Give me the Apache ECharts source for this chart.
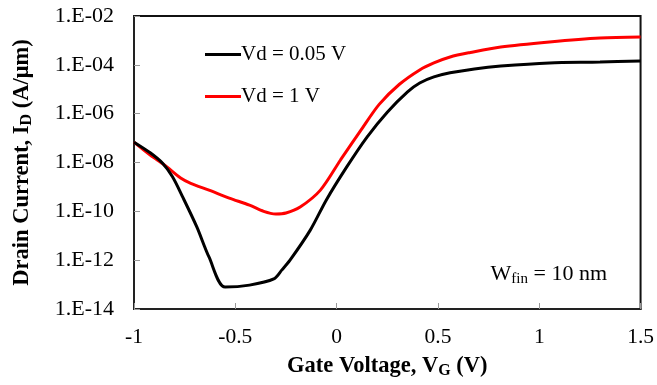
<!DOCTYPE html>
<html>
<head>
<meta charset="utf-8">
<style>
  html, body { margin: 0; padding: 0; background: #fff; }
  #chart { width: 657px; height: 385px; }
</style>
<script src="https://cdn.jsdelivr.net/npm/echarts@6/dist/echarts.min.js"></script>
</head>
<body>
<div id="chart"></div>
<script>
// Gate voltage sweep points (V)
const vgLow  = [-1, -0.92, -0.86, -0.81, -0.76, -0.69, -0.63, -0.55, -0.43, -0.31, -0.27, -0.23, -0.13, -0.05, 0.05, 0.15, 0.25, 0.35, 0.41, 0.48, 0.56, 0.68, 0.81, 1.05, 1.30, 1.50];
// Drain current at Vd = 0.05 V (A/um)
const idLow  = [6.8e-8, 2.5e-8, 9.5e-9, 2.6e-9, 3.9e-10, 2.3e-11, 1.35e-12, 7.9e-14, 9.5e-14, 1.7e-13, 4.0e-13, 1.0e-12, 1.7e-11, 3.0e-10, 6.6e-9, 1.1e-7, 1.15e-6, 7.8e-6, 1.8e-5, 3.2e-5, 4.7e-5, 6.8e-5, 8.9e-5, 1.2e-4, 1.3e-4, 1.45e-4];

const vgHigh = [-1, -0.92, -0.85, -0.77, -0.72, -0.63, -0.53, -0.43, -0.36, -0.30, -0.25, -0.18, -0.08, 0.02, 0.12, 0.21, 0.31, 0.41, 0.48, 0.56, 0.66, 0.81, 1.05, 1.30, 1.50];
// Drain current at Vd = 1 V (A/um)
const idHigh = [6.8e-8, 2.0e-8, 7.9e-9, 2.3e-9, 1.4e-9, 7.4e-10, 3.5e-10, 1.8e-10, 1.0e-10, 7.8e-11, 8.5e-11, 1.5e-10, 7.4e-10, 1.3e-8, 2.1e-7, 2.4e-6, 1.6e-5, 6.2e-5, 1.2e-4, 2.1e-4, 3.2e-4, 5.4e-4, 8.7e-4, 1.26e-3, 1.38e-3];

const seriesNames = ['Vd = 0.05 V', 'Vd = 1 V'];
const xTicks = { min: -1, max: 1.5, step: 0.5 };
const yTicks = { min: 1e-14, max: 1e-2 };

const FONT = 'Liberation Serif';

function pairs(xs, ys) { return xs.map((x, i) => [x, ys[i]]); }

function sciLabel(v) {
  const e = Math.round(Math.log10(v));
  const mag = String(Math.abs(e)).padStart(2, '0');
  return '1.E' + (e < 0 ? '-' : '+') + mag;
}

const chart = echarts.init(document.getElementById('chart'), null, { renderer: 'canvas' });

chart.setOption({
  animation: false,
  backgroundColor: '#fff',
  grid: {
    left: 134, right: 16, top: 16, bottom: 76,
    show: true, borderColor: '#111', borderWidth: 2, backgroundColor: 'transparent'
  },
  legend: {
    orient: 'vertical',
    left: 200, top: 39,
    itemWidth: 36, itemHeight: 3, itemGap: 21,
    icon: 'rect',
    textStyle: { fontFamily: FONT, fontSize: 21, color: '#000', padding: [0, 0, 0, -5] },
    data: seriesNames
  },
  xAxis: {
    type: 'value',
    min: xTicks.min, max: xTicks.max, interval: xTicks.step,
    axisLine: { onZero: false, lineStyle: { color: '#222', width: 2 } },
    axisTick: { inside: true, length: 6, lineStyle: { color: '#999', width: 1 } },
    splitLine: { show: false },
    axisLabel: { fontFamily: FONT, fontSize: 21.5, color: '#000', margin: 17 },
    name: '{b|Gate Voltage, V}{s|G}{b| (V)}',
    nameLocation: 'middle', nameGap: 45,
    nameTextStyle: {
      rich: {
        b: { fontFamily: FONT, fontSize: 22.5, fontWeight: 'bold', color: '#000' },
        s: { fontFamily: FONT, fontSize: 16, fontWeight: 'bold', color: '#000', padding: [9, 0, 0, 0] }
      }
    }
  },
  yAxis: {
    type: 'log', logBase: 10,
    min: yTicks.min, max: yTicks.max, interval: 2,
    axisLine: { onZero: false, lineStyle: { color: '#222', width: 2 } },
    axisTick: { inside: true, length: 6, lineStyle: { color: '#999', width: 1 } },
    splitLine: { show: false },
    minorTick: { show: false },
    axisLabel: { fontFamily: FONT, fontSize: 22, color: '#000', margin: 20, formatter: sciLabel },
    name: '{b|Drain Current, I}{s|D}{b| (A/μm)}',
    nameLocation: 'middle', nameGap: 99,
    nameTextStyle: {
      rich: {
        b: { fontFamily: FONT, fontSize: 22.5, fontWeight: 'bold', color: '#000' },
        s: { fontFamily: FONT, fontSize: 16, fontWeight: 'bold', color: '#000', padding: [9, 0, 0, 0] }
      }
    }
  },
  series: [
    {
      name: seriesNames[0], type: 'line', data: pairs(vgLow, idLow),
      showSymbol: false, smooth: 0.3,
      lineStyle: { color: '#000', width: 3 }, itemStyle: { color: '#000' }, z: 3
    },
    {
      name: seriesNames[1], type: 'line', data: pairs(vgHigh, idHigh),
      showSymbol: false, smooth: 0.3,
      lineStyle: { color: '#ff0000', width: 3 }, itemStyle: { color: '#ff0000' }, z: 2
    }
  ],
  graphic: [
    {
      type: 'text', right: 50, top: 263,
      style: {
        text: '{m|W}{s|fin}{m| = 10 nm}',
        rich: {
          m: { fontFamily: FONT, fontSize: 22, fill: '#000' },
          s: { fontFamily: FONT, fontSize: 15, fill: '#000', padding: [10, 0, 0, 0] }
        }
      }
    }
  ]
});
</script>
</body>
</html>
